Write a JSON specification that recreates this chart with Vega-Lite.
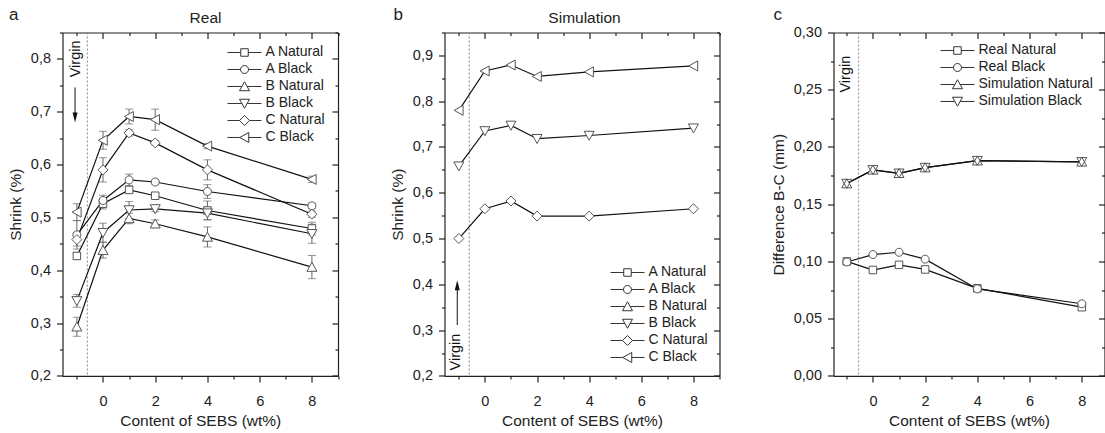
{
"$schema": "https://vega.github.io/schema/vega-lite/v6.json",
"background": "white",
"padding": {"left": 7.5, "top": 5.5, "right": 0, "bottom": 0},
"resolve": {"scale": {"shape": "independent"}, "legend": {"shape": "independent"}},
"config": {
  "font": "Liberation Sans",
  "view": {"stroke": null},
  "axis": {"labelFontSize": 14.5, "titleFontSize": 15.5, "titleFontWeight": "normal", "labelColor": "#222", "titleColor": "#222", "domainColor": "#222", "tickColor": "#222", "grid": false, "domainWidth": 1.2, "tickWidth": 1.2},
  "title": {"fontSize": 17, "fontWeight": "normal", "color": "#222"},
  "legend": {"labelFontSize": 14, "labelColor": "#222", "rowPadding": 3, "padding": 0, "labelOffset": 14}
},
"datasets": {
  "real": [
    {"s":"A Natural","x":-1,"y":0.427,"lo":0.421,"hi":0.433},
    {"s":"A Natural","x":0,"y":0.526,"lo":0.516,"hi":0.536},
    {"s":"A Natural","x":1,"y":0.552,"lo":0.546,"hi":0.558},
    {"s":"A Natural","x":2,"y":0.541,"lo":0.537,"hi":0.545},
    {"s":"A Natural","x":4,"y":0.513,"lo":0.495,"hi":0.531},
    {"s":"A Natural","x":8,"y":0.479,"lo":0.467,"hi":0.491},
    {"s":"A Black","x":-1,"y":0.467,"lo":0.440,"hi":0.494},
    {"s":"A Black","x":0,"y":0.532,"lo":0.522,"hi":0.542},
    {"s":"A Black","x":1,"y":0.571,"lo":0.560,"hi":0.582},
    {"s":"A Black","x":2,"y":0.567,"lo":0.563,"hi":0.571},
    {"s":"A Black","x":4,"y":0.549,"lo":0.536,"hi":0.562},
    {"s":"A Black","x":8,"y":0.522,"lo":0.517,"hi":0.527},
    {"s":"B Natural","x":-1,"y":0.293,"lo":0.275,"hi":0.311},
    {"s":"B Natural","x":0,"y":0.438,"lo":0.423,"hi":0.453},
    {"s":"B Natural","x":1,"y":0.498,"lo":0.488,"hi":0.508},
    {"s":"B Natural","x":2,"y":0.488,"lo":0.481,"hi":0.495},
    {"s":"B Natural","x":4,"y":0.463,"lo":0.444,"hi":0.482},
    {"s":"B Natural","x":8,"y":0.406,"lo":0.384,"hi":0.428},
    {"s":"B Black","x":-1,"y":0.342,"lo":0.330,"hi":0.354},
    {"s":"B Black","x":0,"y":0.471,"lo":0.453,"hi":0.489},
    {"s":"B Black","x":1,"y":0.514,"lo":0.498,"hi":0.530},
    {"s":"B Black","x":2,"y":0.516,"lo":0.511,"hi":0.521},
    {"s":"B Black","x":4,"y":0.508,"lo":0.496,"hi":0.520},
    {"s":"B Black","x":8,"y":0.469,"lo":0.451,"hi":0.487},
    {"s":"C Natural","x":-1,"y":0.458,"lo":0.446,"hi":0.470},
    {"s":"C Natural","x":0,"y":0.590,"lo":0.567,"hi":0.613},
    {"s":"C Natural","x":1,"y":0.660,"lo":0.654,"hi":0.666},
    {"s":"C Natural","x":2,"y":0.641,"lo":0.637,"hi":0.645},
    {"s":"C Natural","x":4,"y":0.590,"lo":0.571,"hi":0.609},
    {"s":"C Natural","x":8,"y":0.506,"lo":0.500,"hi":0.512},
    {"s":"C Black","x":-1,"y":0.510,"lo":0.494,"hi":0.526},
    {"s":"C Black","x":0,"y":0.646,"lo":0.629,"hi":0.663},
    {"s":"C Black","x":1,"y":0.691,"lo":0.677,"hi":0.705},
    {"s":"C Black","x":2,"y":0.685,"lo":0.665,"hi":0.705},
    {"s":"C Black","x":4,"y":0.635,"lo":0.630,"hi":0.640},
    {"s":"C Black","x":8,"y":0.572,"lo":0.566,"hi":0.578}
  ],
  "sim": [
    {"s":"C Natural","x":-1,"y":0.500},
    {"s":"C Natural","x":0,"y":0.565},
    {"s":"C Natural","x":1,"y":0.582},
    {"s":"C Natural","x":2,"y":0.549},
    {"s":"C Natural","x":4,"y":0.549},
    {"s":"C Natural","x":8,"y":0.565},
    {"s":"B Black","x":-1,"y":0.658},
    {"s":"B Black","x":0,"y":0.735},
    {"s":"B Black","x":1,"y":0.747},
    {"s":"B Black","x":2,"y":0.718},
    {"s":"B Black","x":4,"y":0.725},
    {"s":"B Black","x":8,"y":0.741},
    {"s":"C Black","x":-1,"y":0.780},
    {"s":"C Black","x":0,"y":0.866},
    {"s":"C Black","x":1,"y":0.879},
    {"s":"C Black","x":2,"y":0.854},
    {"s":"C Black","x":4,"y":0.864},
    {"s":"C Black","x":8,"y":0.877}
  ],
  "diff": [
    {"s":"Real Natural","x":-1,"y":0.100},
    {"s":"Real Natural","x":0,"y":0.0925},
    {"s":"Real Natural","x":1,"y":0.097},
    {"s":"Real Natural","x":2,"y":0.093},
    {"s":"Real Natural","x":4,"y":0.0765},
    {"s":"Real Natural","x":8,"y":0.060},
    {"s":"Real Black","x":-1,"y":0.0995},
    {"s":"Real Black","x":0,"y":0.106},
    {"s":"Real Black","x":1,"y":0.108},
    {"s":"Real Black","x":2,"y":0.102},
    {"s":"Real Black","x":4,"y":0.076},
    {"s":"Real Black","x":8,"y":0.063},
    {"s":"Simulation Natural","x":-1,"y":0.168},
    {"s":"Simulation Natural","x":0,"y":0.180},
    {"s":"Simulation Natural","x":1,"y":0.177},
    {"s":"Simulation Natural","x":2,"y":0.182},
    {"s":"Simulation Natural","x":4,"y":0.188},
    {"s":"Simulation Natural","x":8,"y":0.187},
    {"s":"Simulation Black","x":-1,"y":0.168},
    {"s":"Simulation Black","x":0,"y":0.180},
    {"s":"Simulation Black","x":1,"y":0.177},
    {"s":"Simulation Black","x":2,"y":0.182},
    {"s":"Simulation Black","x":4,"y":0.188},
    {"s":"Simulation Black","x":8,"y":0.187}
  ]
},
"spacing": 50,
"hconcat": [
{
  "width": 275.5, "height": 343.4,
  "title": {"text": "a", "anchor": "start", "frame": "group", "dx": -53.5, "dy": 13, "offset": 0},
  "data": {"name": "real"},
  "resolve": {"axis": {"x": "independent", "y": "independent"}},
  "layer": [
    {"data": {"values": [{}]}, "mark": {"type": "rule", "strokeDash": [2, 2], "color": "#888", "strokeWidth": 1},
     "encoding": {"x": {"datum": -0.6, "type": "quantitative", "scale": {"domain": [-1.55, 9], "nice": false, "zero": false}, "axis": null}}},
    {"mark": {"type": "rule", "color": "#666", "strokeWidth": 1},
     "encoding": {"x": {"field": "x", "type": "quantitative", "scale": {"domain": [-1.55, 9], "nice": false, "zero": false}, "axis": null},
                  "y": {"field": "lo", "type": "quantitative", "scale": {"domain": [0.2, 0.85], "nice": false, "zero": false}, "axis": null},
                  "y2": {"field": "hi"}}},
    {"mark": {"type": "tick", "orient": "horizontal", "color": "#666", "size": 8, "thickness": 1},
     "encoding": {"x": {"field": "x", "type": "quantitative", "scale": {"domain": [-1.55, 9], "nice": false, "zero": false}, "axis": null},
                  "y": {"field": "lo", "type": "quantitative", "scale": {"domain": [0.2, 0.85], "nice": false, "zero": false}, "axis": null}}},
    {"mark": {"type": "tick", "orient": "horizontal", "color": "#666", "size": 8, "thickness": 1},
     "encoding": {"x": {"field": "x", "type": "quantitative", "scale": {"domain": [-1.55, 9], "nice": false, "zero": false}, "axis": null},
                  "y": {"field": "hi", "type": "quantitative", "scale": {"domain": [0.2, 0.85], "nice": false, "zero": false}, "axis": null}}},
    {"mark": {"type": "line", "color": "#111", "strokeWidth": 1.2},
     "encoding": {"x": {"field": "x", "type": "quantitative", "scale": {"domain": [-1.55, 9], "nice": false, "zero": false},
                        "axis": {"orient": "bottom", "title": "Content of SEBS (wt%)", "titleFontWeight": "normal", "values": [-1,0,1,2,3,4,5,6,7,8,9], "labelExpr": "datum.value >= 0 && datum.value % 2 == 0 ? datum.label : ''", "labelOverlap": false, "labelFlush": false, "labelPadding": 13, "titlePadding": 5.5, "tickSize": {"condition": {"test": "datum.value >= 0 && datum.value % 2 == 0", "value": 6}, "value": 3}}},
                  "y": {"field": "y", "type": "quantitative", "scale": {"domain": [0.2, 0.85], "nice": false, "zero": false},
                        "axis": {"orient": "left", "title": "Shrink (%)", "titleFontWeight": "normal", "values": [0.2,0.25,0.3,0.35,0.4,0.45,0.5,0.55,0.6,0.65,0.7,0.75,0.8,0.85], "labelExpr": "abs(datum.value*10 - round(datum.value*10)) < 0.0001 ? replace(format(datum.value, '.1f'), '.', ',') : ''", "labelOverlap": false, "labelFlush": false, "labelPadding": 6, "titlePadding": 7, "tickSize": {"condition": {"test": "abs(datum.value*10 - round(datum.value*10)) < 0.0001", "value": 6}, "value": 3}}},
                  "detail": {"field": "s"}}},
    {"transform": [{"filter": "datum.s == 'A Natural'"}], "mark": {"type": "point", "shape": "M-0.75,-0.75L0.75,-0.75L0.75,0.75L-0.75,0.75Z", "filled": true, "fill": "white", "stroke": "#555", "strokeWidth": 1, "size": 100, "opacity": 1},
     "encoding": {"x": {"field": "x", "type": "quantitative", "scale": {"domain": [-1.55, 9], "nice": false, "zero": false}, "axis": null},
                  "y": {"field": "y", "type": "quantitative", "scale": {"domain": [0.2, 0.85], "nice": false, "zero": false}, "axis": null}}},
    {"transform": [{"filter": "datum.s == 'A Black'"}], "mark": {"type": "point", "shape": "M-0.8,0A0.8,0.8,0,1,1,0.8,0A0.8,0.8,0,1,1,-0.8,0Z", "filled": true, "fill": "white", "stroke": "#555", "strokeWidth": 1, "size": 100, "opacity": 1},
     "encoding": {"x": {"field": "x", "type": "quantitative", "scale": {"domain": [-1.55, 9], "nice": false, "zero": false}, "axis": null},
                  "y": {"field": "y", "type": "quantitative", "scale": {"domain": [0.2, 0.85], "nice": false, "zero": false}, "axis": null}}},
    {"transform": [{"filter": "datum.s == 'B Natural'"}], "mark": {"type": "point", "shape": "M0,-0.95L1,0.85L-1,0.85Z", "filled": true, "fill": "white", "stroke": "#555", "strokeWidth": 1, "size": 100, "opacity": 1},
     "encoding": {"x": {"field": "x", "type": "quantitative", "scale": {"domain": [-1.55, 9], "nice": false, "zero": false}, "axis": null},
                  "y": {"field": "y", "type": "quantitative", "scale": {"domain": [0.2, 0.85], "nice": false, "zero": false}, "axis": null}}},
    {"transform": [{"filter": "datum.s == 'B Black'"}], "mark": {"type": "point", "shape": "M0,0.95L1,-0.85L-1,-0.85Z", "filled": true, "fill": "white", "stroke": "#555", "strokeWidth": 1, "size": 100, "opacity": 1},
     "encoding": {"x": {"field": "x", "type": "quantitative", "scale": {"domain": [-1.55, 9], "nice": false, "zero": false}, "axis": null},
                  "y": {"field": "y", "type": "quantitative", "scale": {"domain": [0.2, 0.85], "nice": false, "zero": false}, "axis": null}}},
    {"transform": [{"filter": "datum.s == 'C Natural'"}], "mark": {"type": "point", "shape": "M0,-1L1,0L0,1L-1,0Z", "filled": true, "fill": "white", "stroke": "#555", "strokeWidth": 1, "size": 100, "opacity": 1},
     "encoding": {"x": {"field": "x", "type": "quantitative", "scale": {"domain": [-1.55, 9], "nice": false, "zero": false}, "axis": null},
                  "y": {"field": "y", "type": "quantitative", "scale": {"domain": [0.2, 0.85], "nice": false, "zero": false}, "axis": null}}},
    {"transform": [{"filter": "datum.s == 'C Black'"}], "mark": {"type": "point", "shape": "M-0.95,0L0.85,-1L0.85,1Z", "filled": true, "fill": "white", "stroke": "#555", "strokeWidth": 1, "size": 100, "opacity": 1},
     "encoding": {"x": {"field": "x", "type": "quantitative", "scale": {"domain": [-1.55, 9], "nice": false, "zero": false}, "axis": null},
                  "y": {"field": "y", "type": "quantitative", "scale": {"domain": [0.2, 0.85], "nice": false, "zero": false}, "axis": null}}},
    {"transform": [{"filter": "false"}],
     "mark": {"type": "point", "filled": true, "fill": "white", "stroke": "#333", "strokeWidth": 1, "size": 100, "opacity": 1},
     "encoding": {"x": {"field": "x", "type": "quantitative", "scale": {"domain": [-1.55, 9], "nice": false, "zero": false},
                        "axis": {"orient": "top", "title": "Real", "titleFontWeight": "normal", "titlePadding": 6, "titleX": 142.5, "labels": false, "values": [-1,0,1,2,3,4,5,6,7,8,9], "tickSize": {"condition": {"test": "datum.value >= 0 && datum.value % 2 == 0", "value": -6}, "value": -3}}},
                  "y": {"field": "y", "type": "quantitative", "scale": {"domain": [0.2, 0.85], "nice": false, "zero": false},
                        "axis": {"orient": "right", "title": null, "labels": false, "values": [0.2,0.25,0.3,0.35,0.4,0.45,0.5,0.55,0.6,0.65,0.7,0.75,0.8,0.85], "tickSize": {"condition": {"test": "abs(datum.value*10 - round(datum.value*10)) < 0.0001", "value": -6}, "value": -3}}},
                  "shape": {"field": "s", "type": "nominal",
                            "legend": {"title": null, "orient": "top-right", "offset": 13, "symbolSize": 100, "symbolStrokeWidth": 1},
                            "scale": {"domain": ["A Natural","A Black","B Natural","B Black","C Natural","C Black"],
                                      "range": ["M-3.4,0L-0.75,0M0.75,0L3.4,0M-0.75,-0.75L0.75,-0.75L0.75,0.75L-0.75,0.75Z", "M-3.4,0L-0.8,0M0.8,0L3.4,0M-0.8,0A0.8,0.8,0,1,1,0.8,0A0.8,0.8,0,1,1,-0.8,0Z", "M-3.4,0L-0.53,0M0.53,0L3.4,0M0,-0.95L1,0.85L-1,0.85Z", "M-3.4,0L-0.53,0M0.53,0L3.4,0M0,0.95L1,-0.85L-1,-0.85Z", "M-3.4,0L-1,0M1,0L3.4,0M0,-1L1,0L0,1L-1,0Z", "M-3.4,0L-0.95,0M0.85,0L3.4,0M-0.95,0L0.85,-1L0.85,1Z"]}}}},
    {"data": {"values": [{"t": "Virgin"}]}, "mark": {"type": "text", "angle": 270, "fontSize": 14.5, "align": "center", "baseline": "middle", "color": "#111"},
     "encoding": {"x": {"datum": -1.02, "type": "quantitative", "scale": {"domain": [-1.55, 9], "nice": false, "zero": false}, "axis": null},
                  "y": {"datum": 0.80, "type": "quantitative", "scale": {"domain": [0.2, 0.85], "nice": false, "zero": false}, "axis": null},
                  "text": {"field": "t"}}},
    {"data": {"values": [{}]}, "mark": {"type": "rule", "color": "#111", "strokeWidth": 1},
     "encoding": {"x": {"datum": -1.07, "type": "quantitative", "scale": {"domain": [-1.55, 9], "nice": false, "zero": false}, "axis": null},
                  "y": {"datum": 0.746, "type": "quantitative", "scale": {"domain": [0.2, 0.85], "nice": false, "zero": false}, "axis": null},
                  "y2": {"datum": 0.69}}},
    {"data": {"values": [{}]}, "mark": {"type": "point", "shape": "M-0.5,-1L0.5,-1L0,1Z", "filled": true, "color": "#111", "size": 100, "opacity": 1},
     "encoding": {"x": {"datum": -1.07, "type": "quantitative", "scale": {"domain": [-1.55, 9], "nice": false, "zero": false}, "axis": null},
                  "y": {"datum": 0.689, "type": "quantitative", "scale": {"domain": [0.2, 0.85], "nice": false, "zero": false}, "axis": null}}}
  ]
},
{
  "width": 275, "height": 343.4,
  "title": {"text": "b", "anchor": "start", "frame": "group", "dx": -51, "dy": 13, "offset": 0},
  "data": {"name": "sim"},
  "resolve": {"axis": {"x": "independent", "y": "independent"}},
  "layer": [
    {"data": {"values": [{}]}, "mark": {"type": "rule", "strokeDash": [2, 2], "color": "#888", "strokeWidth": 1},
     "encoding": {"x": {"datum": -0.6, "type": "quantitative", "scale": {"domain": [-1.55, 9], "nice": false, "zero": false}, "axis": null}}},
    {"mark": {"type": "line", "color": "#111", "strokeWidth": 1.2},
     "encoding": {"x": {"field": "x", "type": "quantitative", "scale": {"domain": [-1.55, 9], "nice": false, "zero": false},
                        "axis": {"orient": "bottom", "title": "Content of SEBS (wt%)", "titleFontWeight": "normal", "values": [-1,0,1,2,3,4,5,6,7,8,9], "labelExpr": "datum.value >= 0 && datum.value % 2 == 0 ? datum.label : ''", "labelOverlap": false, "labelFlush": false, "labelPadding": 13, "titlePadding": 5.5, "tickSize": {"condition": {"test": "datum.value >= 0 && datum.value % 2 == 0", "value": 6}, "value": 3}}},
                  "y": {"field": "y", "type": "quantitative", "scale": {"domain": [0.2, 0.95], "nice": false, "zero": false},
                        "axis": {"orient": "left", "title": "Shrink (%)", "titleFontWeight": "normal", "values": [0.2,0.25,0.3,0.35,0.4,0.45,0.5,0.55,0.6,0.65,0.7,0.75,0.8,0.85,0.9,0.95], "labelExpr": "abs(datum.value*10 - round(datum.value*10)) < 0.0001 ? replace(format(datum.value, '.1f'), '.', ',') : ''", "labelOverlap": false, "labelFlush": false, "labelPadding": 6, "titlePadding": 7, "tickSize": {"condition": {"test": "abs(datum.value*10 - round(datum.value*10)) < 0.0001", "value": 6}, "value": 3}}},
                  "detail": {"field": "s"}}},
    {"transform": [{"filter": "datum.s == 'B Black'"}], "mark": {"type": "point", "shape": "M0,0.95L1,-0.85L-1,-0.85Z", "filled": true, "fill": "white", "stroke": "#555", "strokeWidth": 1, "size": 100, "opacity": 1},
     "encoding": {"x": {"field": "x", "type": "quantitative", "scale": {"domain": [-1.55, 9], "nice": false, "zero": false}, "axis": null},
                  "y": {"field": "y", "type": "quantitative", "scale": {"domain": [0.2, 0.95], "nice": false, "zero": false}, "axis": null}}},
    {"transform": [{"filter": "datum.s == 'C Natural'"}], "mark": {"type": "point", "shape": "M0,-1L1,0L0,1L-1,0Z", "filled": true, "fill": "white", "stroke": "#555", "strokeWidth": 1, "size": 100, "opacity": 1},
     "encoding": {"x": {"field": "x", "type": "quantitative", "scale": {"domain": [-1.55, 9], "nice": false, "zero": false}, "axis": null},
                  "y": {"field": "y", "type": "quantitative", "scale": {"domain": [0.2, 0.95], "nice": false, "zero": false}, "axis": null}}},
    {"transform": [{"filter": "datum.s == 'C Black'"}], "mark": {"type": "point", "shape": "M-0.95,0L0.85,-1L0.85,1Z", "filled": true, "fill": "white", "stroke": "#555", "strokeWidth": 1, "size": 100, "opacity": 1},
     "encoding": {"x": {"field": "x", "type": "quantitative", "scale": {"domain": [-1.55, 9], "nice": false, "zero": false}, "axis": null},
                  "y": {"field": "y", "type": "quantitative", "scale": {"domain": [0.2, 0.95], "nice": false, "zero": false}, "axis": null}}},
    {"transform": [{"filter": "false"}],
     "mark": {"type": "point", "filled": true, "fill": "white", "stroke": "#333", "strokeWidth": 1, "size": 100, "opacity": 1},
     "encoding": {"x": {"field": "x", "type": "quantitative", "scale": {"domain": [-1.55, 9], "nice": false, "zero": false},
                        "axis": {"orient": "top", "title": "Simulation", "titleFontWeight": "normal", "titlePadding": 6, "titleX": 139.5, "labels": false, "values": [-1,0,1,2,3,4,5,6,7,8,9], "tickSize": {"condition": {"test": "datum.value >= 0 && datum.value % 2 == 0", "value": -6}, "value": -3}}},
                  "y": {"field": "y", "type": "quantitative", "scale": {"domain": [0.2, 0.95], "nice": false, "zero": false},
                        "axis": {"orient": "right", "title": null, "labels": false, "values": [0.2,0.25,0.3,0.35,0.4,0.45,0.5,0.55,0.6,0.65,0.7,0.75,0.8,0.85,0.9,0.95], "tickSize": {"condition": {"test": "abs(datum.value*10 - round(datum.value*10)) < 0.0001", "value": -6}, "value": -3}}},
                  "shape": {"field": "s", "type": "nominal",
                            "legend": {"title": null, "orient": "bottom-right", "offset": 11, "symbolSize": 100, "symbolStrokeWidth": 1},
                            "scale": {"domain": ["A Natural","A Black","B Natural","B Black","C Natural","C Black"],
                                      "range": ["M-3.4,0L-0.75,0M0.75,0L3.4,0M-0.75,-0.75L0.75,-0.75L0.75,0.75L-0.75,0.75Z", "M-3.4,0L-0.8,0M0.8,0L3.4,0M-0.8,0A0.8,0.8,0,1,1,0.8,0A0.8,0.8,0,1,1,-0.8,0Z", "M-3.4,0L-0.53,0M0.53,0L3.4,0M0,-0.95L1,0.85L-1,0.85Z", "M-3.4,0L-0.53,0M0.53,0L3.4,0M0,0.95L1,-0.85L-1,-0.85Z", "M-3.4,0L-1,0M1,0L3.4,0M0,-1L1,0L0,1L-1,0Z", "M-3.4,0L-0.95,0M0.85,0L3.4,0M-0.95,0L0.85,-1L0.85,1Z"]}}}},
    {"data": {"values": [{"t": "Virgin"}]}, "mark": {"type": "text", "angle": 270, "fontSize": 14.5, "align": "center", "baseline": "middle", "color": "#111"},
     "encoding": {"x": {"datum": -1.1, "type": "quantitative", "scale": {"domain": [-1.55, 9], "nice": false, "zero": false}, "axis": null},
                  "y": {"datum": 0.252, "type": "quantitative", "scale": {"domain": [0.2, 0.95], "nice": false, "zero": false}, "axis": null},
                  "text": {"field": "t"}}},
    {"data": {"values": [{}]}, "mark": {"type": "rule", "color": "#111", "strokeWidth": 1},
     "encoding": {"x": {"datum": -1.06, "type": "quantitative", "scale": {"domain": [-1.55, 9], "nice": false, "zero": false}, "axis": null},
                  "y": {"datum": 0.311, "type": "quantitative", "scale": {"domain": [0.2, 0.95], "nice": false, "zero": false}, "axis": null},
                  "y2": {"datum": 0.398}}},
    {"data": {"values": [{}]}, "mark": {"type": "point", "shape": "M-0.5,1L0.5,1L0,-1Z", "filled": true, "color": "#111", "size": 100, "opacity": 1},
     "encoding": {"x": {"datum": -1.06, "type": "quantitative", "scale": {"domain": [-1.55, 9], "nice": false, "zero": false}, "axis": null},
                  "y": {"datum": 0.398, "type": "quantitative", "scale": {"domain": [0.2, 0.95], "nice": false, "zero": false}, "axis": null}}}
  ]
},
{
  "width": 271, "height": 343.4,
  "title": {"text": "c", "anchor": "start", "frame": "group", "dx": -60, "dy": 13, "offset": 0},
  "data": {"name": "diff"},
  "resolve": {"axis": {"x": "independent", "y": "independent"}},
  "layer": [
    {"data": {"values": [{}]}, "mark": {"type": "rule", "strokeDash": [2, 2], "color": "#888", "strokeWidth": 1},
     "encoding": {"x": {"datum": -0.55, "type": "quantitative", "scale": {"domain": [-1.51, 8.87], "nice": false, "zero": false}, "axis": null}}},
    {"mark": {"type": "line", "color": "#111", "strokeWidth": 1.2},
     "encoding": {"x": {"field": "x", "type": "quantitative", "scale": {"domain": [-1.51, 8.87], "nice": false, "zero": false},
                        "axis": {"orient": "bottom", "title": "Content of SEBS (wt%)", "titleFontWeight": "normal", "values": [-1,0,1,2,3,4,5,6,7,8], "labelExpr": "datum.value >= 0 && datum.value % 2 == 0 ? datum.label : ''", "labelOverlap": false, "labelFlush": false, "labelPadding": 13, "titlePadding": 5.5, "tickSize": {"condition": {"test": "datum.value >= 0 && datum.value % 2 == 0", "value": 6}, "value": 3}}},
                  "y": {"field": "y", "type": "quantitative", "scale": {"domain": [0, 0.3], "nice": false, "zero": false},
                        "axis": {"orient": "left", "title": "Difference B-C (mm)", "titleFontWeight": "normal", "values": [0,0.025,0.05,0.075,0.1,0.125,0.15,0.175,0.2,0.225,0.25,0.275,0.3], "labelExpr": "abs(datum.value*20 - round(datum.value*20)) < 0.0001 ? replace(format(datum.value, '.2f'), '.', ',') : ''", "labelOverlap": false, "labelFlush": false, "labelPadding": 6, "titlePadding": 7, "tickSize": {"condition": {"test": "abs(datum.value*20 - round(datum.value*20)) < 0.0001", "value": 6}, "value": 3}}},
                  "detail": {"field": "s"}}},
    {"transform": [{"filter": "datum.s == 'Real Natural'"}], "mark": {"type": "point", "shape": "M-0.75,-0.75L0.75,-0.75L0.75,0.75L-0.75,0.75Z", "filled": true, "fill": "white", "stroke": "#555", "strokeWidth": 1, "size": 100, "opacity": 1},
     "encoding": {"x": {"field": "x", "type": "quantitative", "scale": {"domain": [-1.51, 8.87], "nice": false, "zero": false}, "axis": null},
                  "y": {"field": "y", "type": "quantitative", "scale": {"domain": [0, 0.3], "nice": false, "zero": false}, "axis": null}}},
    {"transform": [{"filter": "datum.s == 'Real Black'"}], "mark": {"type": "point", "shape": "M-0.8,0A0.8,0.8,0,1,1,0.8,0A0.8,0.8,0,1,1,-0.8,0Z", "filled": true, "fill": "white", "stroke": "#555", "strokeWidth": 1, "size": 100, "opacity": 1},
     "encoding": {"x": {"field": "x", "type": "quantitative", "scale": {"domain": [-1.51, 8.87], "nice": false, "zero": false}, "axis": null},
                  "y": {"field": "y", "type": "quantitative", "scale": {"domain": [0, 0.3], "nice": false, "zero": false}, "axis": null}}},
    {"transform": [{"filter": "datum.s == 'Simulation Natural'"}], "mark": {"type": "point", "shape": "M0,-0.95L1,0.85L-1,0.85Z", "filled": true, "fill": "white", "stroke": "#555", "strokeWidth": 1, "size": 100, "opacity": 1},
     "encoding": {"x": {"field": "x", "type": "quantitative", "scale": {"domain": [-1.51, 8.87], "nice": false, "zero": false}, "axis": null},
                  "y": {"field": "y", "type": "quantitative", "scale": {"domain": [0, 0.3], "nice": false, "zero": false}, "axis": null}}},
    {"transform": [{"filter": "datum.s == 'Simulation Black'"}], "mark": {"type": "point", "shape": "M0,0.95L1,-0.85L-1,-0.85Z", "filled": true, "fill": "transparent", "stroke": "#555", "strokeWidth": 1, "size": 100, "opacity": 1},
     "encoding": {"x": {"field": "x", "type": "quantitative", "scale": {"domain": [-1.51, 8.87], "nice": false, "zero": false}, "axis": null},
                  "y": {"field": "y", "type": "quantitative", "scale": {"domain": [0, 0.3], "nice": false, "zero": false}, "axis": null}}},
    {"transform": [{"filter": "false"}],
     "mark": {"type": "point", "filled": true, "fill": "white", "stroke": "#333", "strokeWidth": 1, "size": 100, "opacity": 1},
     "encoding": {"x": {"field": "x", "type": "quantitative", "scale": {"domain": [-1.51, 8.87], "nice": false, "zero": false},
                        "axis": {"orient": "top", "title": " ", "titleFontWeight": "normal", "titlePadding": 6, "labels": false, "values": [-1,0,1,2,3,4,5,6,7,8], "tickSize": {"condition": {"test": "datum.value >= 0 && datum.value % 2 == 0", "value": -6}, "value": -3}}},
                  "y": {"field": "y", "type": "quantitative", "scale": {"domain": [0, 0.3], "nice": false, "zero": false},
                        "axis": {"orient": "right", "title": null, "labels": false, "values": [0,0.025,0.05,0.075,0.1,0.125,0.15,0.175,0.2,0.225,0.25,0.275,0.3], "tickSize": {"condition": {"test": "abs(datum.value*20 - round(datum.value*20)) < 0.0001", "value": -6}, "value": -3}}},
                  "shape": {"field": "s", "type": "nominal",
                            "legend": {"title": null, "orient": "top-right", "offset": 11, "symbolSize": 100, "symbolStrokeWidth": 1},
                            "scale": {"domain": ["Real Natural","Real Black","Simulation Natural","Simulation Black"],
                                      "range": ["M-3.4,0L-0.75,0M0.75,0L3.4,0M-0.75,-0.75L0.75,-0.75L0.75,0.75L-0.75,0.75Z", "M-3.4,0L-0.8,0M0.8,0L3.4,0M-0.8,0A0.8,0.8,0,1,1,0.8,0A0.8,0.8,0,1,1,-0.8,0Z", "M-3.4,0L-0.53,0M0.53,0L3.4,0M0,-0.95L1,0.85L-1,0.85Z", "M-3.4,0L-0.53,0M0.53,0L3.4,0M0,0.95L1,-0.85L-1,-0.85Z"]}}}},
    {"data": {"values": [{"t": "Virgin"}]}, "mark": {"type": "text", "angle": 270, "fontSize": 14.5, "align": "center", "baseline": "middle", "color": "#111"},
     "encoding": {"x": {"datum": -1.02, "type": "quantitative", "scale": {"domain": [-1.51, 8.87], "nice": false, "zero": false}, "axis": null},
                  "y": {"datum": 0.2636, "type": "quantitative", "scale": {"domain": [0, 0.3], "nice": false, "zero": false}, "axis": null},
                  "text": {"field": "t"}}}
  ]
}
]
}
